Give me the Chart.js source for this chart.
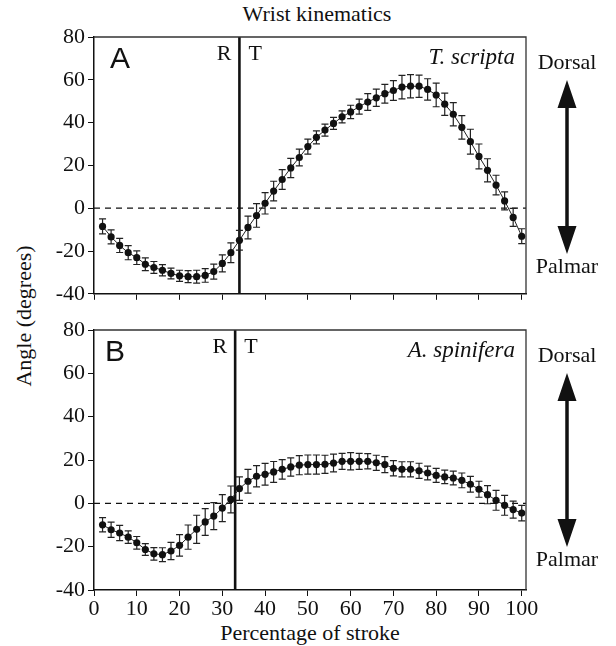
<!DOCTYPE html>
<html>
<head>
<meta charset="utf-8">
<script src="https://cdn.jsdelivr.net/npm/chart.js@4.4.0/dist/chart.umd.min.js"></script>
<style>
body { margin: 0; background: #fff; }
#wrap { position: relative; width: 616px; height: 646px; font-family: "Liberation Serif", serif; color: #111; }
canvas { position: absolute; left: 0; }
#chartA { top: 0; }
#chartB { top: 310px; }
.lbl { position: absolute; white-space: nowrap; font-size: 22px; line-height: 1; }
#title { left: 317px; top: 3px; transform: translateX(-50%); }
#xtitle { left: 310px; top: 622px; transform: translateX(-50%); }
#ytitle { left: 24px; top: 316px; transform: translate(-50%, -50%) rotate(-90deg); }
</style>
</head>
<body>
<div id="wrap">
  <div class="lbl" id="title">Wrist kinematics</div>
  <div class="lbl" id="ytitle">Angle (degrees)</div>
  <div class="lbl" id="xtitle">Percentage of stroke</div>
  <canvas id="chartA" width="616" height="310"></canvas>
  <canvas id="chartB" width="616" height="336"></canvas>
</div>
<script>
var pct = [2, 4, 6, 8, 10, 12, 14, 16, 18, 20, 22, 24, 26, 28, 30, 32, 34, 36, 38, 40,
  42, 44, 46, 48, 50, 52, 54, 56, 58, 60, 62, 64, 66, 68, 70, 72, 74, 76, 78, 80,
  82, 84, 86, 88, 90, 92, 94, 96, 98, 100];

var xTicks = [0, 10, 20, 30, 40, 50, 60, 70, 80, 90, 100];
var yTicks = [-40, -20, 0, 20, 40, 60, 80];

// T. scripta (panel A)
var scriptaMean = [-8.5, -13.4, -17.4, -20.8, -23.1, -26.2, -27.7, -29, -30.5, -31.6,
  -32, -32, -31.4, -29.6, -25.8, -20.8, -15, -9, -3.4, 2.3,
  8, 13.4, 18.8, 23.7, 28.8, 33.1, 36.5, 39.6, 42.7, 45,
  47.5, 49.6, 51.6, 53.5, 55, 56.6, 57, 57, 55.5, 52.9,
  48.6, 43.9, 37.8, 31.1, 24.2, 17.7, 10.8, 3.4, -4.3, -13.1];
var scriptaSd = [3.5, 3.3, 3.3, 3.3, 3.2, 3, 2.8, 2.6, 2.5, 2.6,
  2.8, 3, 3.2, 3.5, 4, 4.6, 4.6, 5.3, 5.5, 5,
  4.6, 4.6, 4.5, 3.9, 3.5, 3, 2.8, 2.8, 2.8, 3.1,
  3.5, 3.9, 4, 4.4, 4.6, 5.5, 5.4, 5.2, 5, 5.5,
  5.2, 5.4, 5.5, 5.8, 5.8, 5.4, 4.6, 4.2, 4.2, 3.5];
var scriptaSplit = 34;

// A. spinifera (panel B)
var spiniferaMean = [-9.9, -12.2, -13.7, -15.6, -18.2, -21.3, -23.3, -23.7, -22, -19.4,
  -15.6, -12, -8.6, -5.9, -2.2, 1.8, 6.8, 10.2, 12.5, 13.4,
  14.5, 15.7, 16.8, 17.6, 17.9, 17.9, 18, 18.6, 19.4, 19.4,
  19.4, 19.4, 18.7, 17.9, 16.2, 15.7, 15.7, 15, 14, 12.9,
  12.2, 11.7, 10.6, 8.8, 6.5, 4, 1.4, -0.9, -2.9, -4.5];
var spiniferaSd = [3.3, 3.5, 3.5, 2.9, 2.9, 2.7, 2.9, 3.2, 4, 5,
  5.6, 6.5, 6.2, 6.2, 6.2, 6.2, 5.4, 5.5, 4.9, 5,
  4.8, 4.5, 4.2, 4.4, 4.4, 4.4, 4.2, 4.1, 3.7, 4,
  3.7, 3.5, 3.5, 3.7, 3.5, 3.5, 3.5, 3.5, 3.2, 3.2,
  3.1, 3.2, 3.4, 3.6, 3.7, 4.2, 4.6, 4.6, 3.9, 3.6];
var spiniferaSplit = 33;

var serif = "'Liberation Serif', serif";
var sans = "'Liberation Sans', sans-serif";

// error bars, zero line, R|T divider and the labels around each panel
var panelDeco = {
  id: 'panelDeco',
  beforeDatasetsDraw: function(chart, args, o) {
    var ctx = chart.ctx, a = chart.chartArea;
    var x = chart.scales.x, y = chart.scales.y;
    ctx.save();
    var y0 = y.getPixelForValue(0);
    ctx.strokeStyle = '#111';
    ctx.lineWidth = 1.3;
    ctx.setLineDash([6, 5]);
    ctx.beginPath();
    ctx.moveTo(a.left, y0);
    ctx.lineTo(a.right, y0);
    ctx.stroke();
    ctx.setLineDash([]);

    var xs = x.getPixelForValue(o.split);
    ctx.lineWidth = 2.6;
    ctx.beginPath();
    ctx.moveTo(xs, a.top);
    ctx.lineTo(xs, a.bottom);
    ctx.stroke();

    ctx.strokeStyle = '#222';
    ctx.lineWidth = 1.2;
    for (var i = 0; i < pct.length; i++) {
      var px = x.getPixelForValue(pct[i]);
      var hi = y.getPixelForValue(o.mean[i] + o.sd[i]);
      var lo = y.getPixelForValue(o.mean[i] - o.sd[i]);
      ctx.beginPath();
      ctx.moveTo(px, hi); ctx.lineTo(px, lo);
      ctx.moveTo(px - 3.5, hi); ctx.lineTo(px + 3.5, hi);
      ctx.moveTo(px - 3.5, lo); ctx.lineTo(px + 3.5, lo);
      ctx.stroke();
    }
    ctx.restore();
  },
  afterDraw: function(chart, args, o) {
    var ctx = chart.ctx, a = chart.chartArea;
    var xs = chart.scales.x.getPixelForValue(o.split);
    ctx.save();
    // top and right frame
    ctx.strokeStyle = '#333';
    ctx.lineWidth = 1.3;
    ctx.beginPath();
    ctx.moveTo(a.left, a.top);
    ctx.lineTo(a.right, a.top);
    ctx.lineTo(a.right, a.bottom);
    ctx.stroke();

    ctx.fillStyle = '#111';
    ctx.textBaseline = 'alphabetic';
    ctx.font = '30px ' + sans;
    ctx.textAlign = 'left';
    ctx.fillText(o.letter, a.left + o.letterDx, a.top + 31);

    ctx.font = '22px ' + serif;
    ctx.textAlign = 'right';
    ctx.fillText('R', xs - 8, a.top + 23);
    ctx.textAlign = 'left';
    ctx.fillText('T', xs + 9, a.top + 23);

    ctx.font = 'italic 23px ' + serif;
    ctx.textAlign = 'right';
    ctx.fillText(o.species, a.right - 11, a.top + 27);

    // Dorsal / Palmar arrow
    var ax = 567;
    ctx.font = '22px ' + serif;
    ctx.textAlign = 'center';
    ctx.textBaseline = 'middle';
    ctx.fillText('Dorsal', ax, a.top + 26);
    ctx.fillText('Palmar', ax, a.top + 230);
    ctx.strokeStyle = '#111';
    ctx.lineWidth = 3.5;
    ctx.beginPath();
    ctx.moveTo(ax, a.top + 60);
    ctx.lineTo(ax, a.top + 200);
    ctx.stroke();
    ctx.beginPath();
    ctx.moveTo(ax, a.top + 43);
    ctx.lineTo(ax + 9.5, a.top + 71);
    ctx.lineTo(ax - 9.5, a.top + 71);
    ctx.closePath();
    ctx.moveTo(ax, a.top + 217);
    ctx.lineTo(ax + 9.5, a.top + 189);
    ctx.lineTo(ax - 9.5, a.top + 189);
    ctx.closePath();
    ctx.fill();
    ctx.restore();
  }
};

function makePanel(canvasId, mean, sd, split, letter, letterDx, species, padTop, xHeight, showX) {
  var points = pct.map(function(p, i) { return { x: p, y: mean[i] }; });
  return new Chart(document.getElementById(canvasId), {
    type: 'line',
    data: {
      datasets: [{
        data: points,
        borderColor: '#222',
        borderWidth: 1,
        pointRadius: 3.6,
        pointBackgroundColor: '#111',
        pointBorderWidth: 0,
        tension: 0,
        fill: false
      }]
    },
    options: {
      responsive: false,
      animation: false,
      layout: { padding: { top: padTop, right: 90, left: 0, bottom: 0 } },
      plugins: {
        legend: { display: false },
        tooltip: { enabled: false },
        panelDeco: { mean: mean, sd: sd, split: split, letter: letter, letterDx: letterDx, species: species }
      },
      scales: {
        x: {
          type: 'linear',
          min: 0,
          max: 101,
          afterBuildTicks: function(s) { s.ticks = xTicks.map(function(v) { return { value: v }; }); },
          afterFit: function(s) { s.height = xHeight; },
          grid: { display: true, drawOnChartArea: false, drawTicks: true, tickLength: 6, color: '#111' },
          border: { display: true, color: '#111', width: 1.5 },
          ticks: {
            display: showX,
            padding: 0,
            maxRotation: 0,
            color: '#111',
            font: { family: serif, size: 22 }
          }
        },
        y: {
          min: -40,
          max: 80,
          afterBuildTicks: function(s) { s.ticks = yTicks.map(function(v) { return { value: v }; }); },
          afterFit: function(s) { s.width = 94; },
          grid: { display: true, drawOnChartArea: false, drawTicks: true, tickLength: 6, color: '#111' },
          border: { display: true, color: '#111', width: 1.5 },
          ticks: {
            padding: 3,
            color: '#111',
            font: { family: serif, size: 22 }
          }
        }
      }
    },
    plugins: [panelDeco]
  });
}

makePanel('chartA', scriptaMean, scriptaSd, scriptaSplit, 'A', 16, 'T. scripta', 37, 14, false);
makePanel('chartB', spiniferaMean, spiniferaSd, spiniferaSplit, 'B', 11, 'A. spinifera', 20, 56, true);
</script>
</body>
</html>
